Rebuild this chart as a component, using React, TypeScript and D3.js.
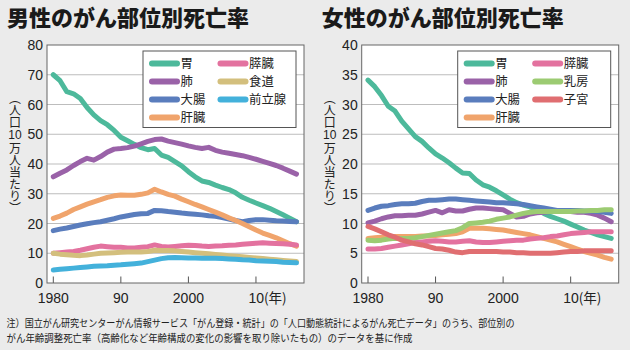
import React from 'react';
import * as d3 from 'd3';

// years on the x axis
const years = [
  1980, 1981, 1982, 1983, 1984, 1985, 1986, 1987, 1988, 1989,
  1990, 1991, 1992, 1993, 1994, 1995, 1996, 1997, 1998, 1999,
  2000, 2001, 2002, 2003, 2004, 2005, 2006, 2007, 2008, 2009,
  2010, 2011, 2012, 2013, 2014, 2015, 2016
];

// male, deaths per 100k
const maleStomach = [70, 68, 64.3, 63.6, 62, 59, 56.5, 54.6, 53.2, 51.3, 49, 47.8, 46.6, 45.5, 44.8, 45.2, 43, 42.2, 40.8, 39.4, 37.4, 35.7, 34.3, 33.8, 32.9, 32.1, 31.4, 30.3, 28.8, 27.8, 26.9, 26, 25.1, 24, 22.9, 21.8, 20.6];
const maleLung = [35.7, 36.9, 38, 39.5, 40.8, 41.9, 41.3, 42.5, 44, 45, 45.2, 45.5, 46, 46.8, 47.6, 48.2, 48.4, 47.7, 47.2, 46.7, 46.1, 45.6, 45.2, 45.6, 44.6, 44, 43.6, 43.2, 42.8, 42.2, 41.6, 40.9, 40.2, 39.5, 38.6, 37.6, 36.6];
const maleColon = [17.6, 18.1, 18.5, 19, 19.5, 19.9, 20.3, 20.6, 21.1, 21.6, 22.2, 22.6, 23, 23.3, 23.4, 24.4, 24.3, 24, 23.8, 23.5, 23.3, 23.1, 22.9, 22.6, 22.4, 22, 21.5, 21, 20.6, 21, 21.3, 21.3, 21.1, 20.9, 20.8, 20.7, 20.6];
const maleLiver = [21.7, 22.5, 23.5, 24.7, 25.6, 26.5, 27.3, 28, 28.8, 29.3, 29.6, 29.5, 29.5, 29.8, 30.3, 31.5, 30.6, 29.8, 29.2, 28.2, 27.3, 26.4, 25.6, 24.7, 23.8, 22.9, 21.9, 21, 20, 18.9, 17.8, 16.8, 16, 15.2, 14.2, 13.2, 12.4];
const malePancreas = [10, 10.2, 10.4, 10.6, 11, 11.5, 12, 12.4, 12.2, 12, 12, 11.8, 11.8, 12, 12.2, 12.8, 12.3, 12.1, 12.3, 12.5, 12.7, 12.6, 12.4, 12.3, 12.4, 12.5, 12.7, 12.8, 13, 13.2, 13.4, 13.5, 13.4, 13.3, 13.2, 13, 12.8];
const maleEsophagus = [10, 9.7, 9.5, 9.3, 9.2, 9.4, 9.7, 10, 10.1, 10.2, 10.3, 10.4, 10.4, 10.4, 10.6, 11, 10.9, 10.9, 10.8, 10.6, 10.4, 10.2, 10, 9.8, 9.6, 9.4, 9.2, 9, 8.8, 8.6, 8.4, 8.2, 8, 7.8, 7.6, 7.4, 7.2];
const maleProstate = [4.4, 4.6, 4.8, 5, 5.2, 5.4, 5.6, 5.7, 5.8, 6, 6.1, 6.3, 6.5, 6.7, 7.2, 7.7, 8.2, 8.5, 8.6, 8.5, 8.4, 8.4, 8.3, 8.3, 8.3, 8.2, 8.1, 8, 7.8, 7.7, 7.5, 7.4, 7.3, 7.2, 7, 6.9, 6.8];

// female, deaths per 100k
const femaleStomach = [34.1, 33, 31.5, 29.7, 28.9, 27.2, 25.9, 24.6, 23.8, 22.7, 21.7, 21, 20.2, 19.3, 18.5, 18.4, 17.3, 16.5, 16.1, 15.5, 14.8, 14.1, 13.5, 13.1, 12.8, 12.3, 11.7, 11.2, 10.8, 10.4, 9.9, 9.4, 8.9, 8.5, 8.1, 7.8, 7.5];
const femaleLung = [10.1, 10.4, 10.8, 11.1, 11.3, 11.3, 11.4, 11.4, 11.6, 11.9, 12.2, 11.8, 12.3, 12.1, 12.1, 12.4, 12.6, 12.6, 12.5, 12.4, 12.3, 11.7, 11.1, 11.2, 11.6, 11.8, 11.9, 12, 12, 12, 12, 11.9, 11.9, 11.7, 11.4, 10.9, 10.3];
const femaleColon = [12.2, 12.6, 12.9, 13, 13.2, 13.3, 13.3, 13.4, 13.7, 13.9, 13.9, 14, 14.1, 14.1, 14, 13.9, 13.8, 13.7, 13.6, 13.5, 13.5, 13.4, 13.3, 13.2, 13, 12.8, 12.6, 12.4, 12.2, 12.2, 12.2, 12.2, 12.1, 12.1, 12, 11.9, 11.7];
const femaleLiver = [7.5, 7.6, 7.7, 7.8, 7.8, 7.8, 7.8, 7.8, 7.9, 7.9, 8, 8.1, 8.2, 8.3, 8.6, 9.2, 9.2, 9.2, 9.1, 9, 8.9, 8.7, 8.5, 8.3, 8.1, 7.8, 7.5, 7.2, 6.9, 6.5, 6.1, 5.7, 5.3, 5, 4.7, 4.3, 4];
const femalePancreas = [5.7, 5.7, 5.8, 6, 6.2, 6.4, 6.6, 6.8, 6.9, 7, 7.1, 7, 6.9, 6.9, 7, 7.1, 6.9, 6.8, 6.8, 6.9, 7, 7.1, 7.2, 7.2, 7.4, 7.5, 7.6, 7.8, 7.9, 8.1, 8.3, 8.4, 8.5, 8.6, 8.6, 8.6, 8.6];
const femaleBreast = [7.2, 7.1, 7.2, 7.4, 7.5, 7.5, 7.5, 7.6, 7.8, 8, 8.2, 8.4, 8.6, 8.8, 9.3, 10, 10.1, 10.2, 10.4, 10.7, 10.9, 11.1, 11.4, 11.7, 11.9, 12, 12, 12, 12, 12, 12, 12.1, 12.1, 12.2, 12.2, 12.3, 12.3];
const femaleUterus = [9.5, 9.1, 8.6, 8.1, 7.7, 7.2, 6.9, 6.6, 6.4, 6.1, 5.8, 5.7, 5.5, 5.2, 5.1, 5.3, 5.3, 5.3, 5.3, 5.3, 5.2, 5.2, 5.1, 5.1, 5, 5, 5, 5, 5.1, 5.2, 5.3, 5.3, 5.4, 5.4, 5.4, 5.4, 5.4];

const maleYTicks = [0, 10, 20, 30, 40, 50, 60, 70, 80];
const femaleYTicks = [0, 5, 10, 15, 20, 25, 30, 35, 40];
const xTickYears = [1980, 1990, 2000, 2010];
const xTickLabels = ['1980', '90', '2000', '10'];
// vertical axis caption: upper part, the upright "10", lower part
const yLabelTop = '（人口';
const yLabelNum = '10';
const yLabelBottom = '万人当たり）';

const colors = {
  stomach: '#4db99b',
  lung: '#9a62a8',
  colon: '#5a7dbd',
  liver: '#f0a46c',
  pancreas: '#e3729f',
  esophagus: '#d3bf7d',
  prostate: '#43b1db',
  breast: '#9ccb72',
  uterus: '#e06e71'
};

const maleSeries = [
  { name: '胃', values: maleStomach, color: colors.stomach },
  { name: '肺', values: maleLung, color: colors.lung },
  { name: '大腸', values: maleColon, color: colors.colon },
  { name: '肝臓', values: maleLiver, color: colors.liver },
  { name: '膵臓', values: malePancreas, color: colors.pancreas },
  { name: '食道', values: maleEsophagus, color: colors.esophagus },
  { name: '前立腺', values: maleProstate, color: colors.prostate }
];

const femaleSeries = [
  { name: '胃', values: femaleStomach, color: colors.stomach },
  { name: '肺', values: femaleLung, color: colors.lung },
  { name: '大腸', values: femaleColon, color: colors.colon },
  { name: '肝臓', values: femaleLiver, color: colors.liver },
  { name: '膵臓', values: femalePancreas, color: colors.pancreas },
  { name: '乳房', values: femaleBreast, color: colors.breast },
  { name: '子宮', values: femaleUterus, color: colors.uterus }
];

const JP = '"Noto Sans CJK JP", "Noto Sans", sans-serif';
const NUM = '"Liberation Sans", Arial, "Noto Sans CJK JP", sans-serif';

type Series = { name: string; values: number[]; color: string };

function Panel({ left, title, series, yTicks }: { left: number; title: string; series: Series[]; yTicks: number[] }) {
  const x0 = left + 47;
  const x1 = left + 304;
  const top = 45;
  const bottom = 283;

  const x = d3.scaleLinear().domain([1980, 2016]).range([x0 + 6.3, x1 - 7.5]);
  const y = d3.scaleLinear().domain([0, d3.max(yTicks) as number]).range([bottom, top]);
  const line = d3
    .line<number>()
    .x((d, i) => x(years[i]))
    .y(d => y(d));

  const lx = x0 + 96;
  const ly = 51;
  const cx = left + 15;

  return (
    <g>
      <text x={left + 7} y={25.5} fontFamily={JP} fontWeight={900} fontSize={22} fill="#1a1a1a">
        {title}
      </text>

      <rect x={x0} y={top} width={x1 - x0} height={bottom - top} fill="#fff" />
      {yTicks.slice(1, -1).map(t => (
        <line key={t} x1={x0} x2={x1} y1={y(t)} y2={y(t)} stroke="#bdbdbd" strokeWidth={1} />
      ))}
      {yTicks.map(t => (
        <text key={t} x={x0 - 4} y={y(t)} dy="0.36em" textAnchor="end" fontFamily={NUM} fontSize={14} fill="#222">
          {t}
        </text>
      ))}
      {xTickYears.map((yr, i) => (
        <g key={yr}>
          <line x1={x(yr)} x2={x(yr)} y1={bottom} y2={bottom - 6.5} stroke="#555" strokeWidth={1} />
          {yr === 2010 ? (
            <text x={x(yr) - 7.5} y={303} fontFamily={NUM} fontSize={14} fill="#222">
              {xTickLabels[i]}
              <tspan fontFamily={JP} fontSize={13.5}>(年)</tspan>
            </text>
          ) : (
            <text x={x(yr)} y={303} textAnchor="middle" fontFamily={NUM} fontSize={14} fill="#222">
              {xTickLabels[i]}
            </text>
          )}
        </g>
      ))}

      {/* vertical caption */}
      <text x={cx} y={92} fontFamily={JP} fontSize={12} fill="#222" style={{ writingMode: 'vertical-rl' }}>
        {yLabelTop}
      </text>
      <text x={cx} y={138.5} textAnchor="middle" fontFamily={NUM} fontSize={12} fill="#222">
        {yLabelNum}
      </text>
      <text x={cx} y={142} fontFamily={JP} fontSize={12} fill="#222" style={{ writingMode: 'vertical-rl' }}>
        {yLabelBottom}
      </text>

      {series.map(s => (
        <path
          key={s.name}
          d={line(s.values) || ''}
          fill="none"
          stroke={s.color}
          strokeWidth={5}
          strokeLinecap="round"
          strokeLinejoin="round"
        />
      ))}

      <rect x={x0} y={top} width={x1 - x0} height={bottom - top} fill="none" stroke="#666" strokeWidth={1} />

      <rect x={lx} y={ly} width={153} height={76.5} fill="#fff" stroke="#555" strokeWidth={1} />
      {series.map((s, i) => {
        const col = i < 4 ? 0 : 1;
        const row = i < 4 ? i : i - 4;
        const sx = lx + 9 + col * 68.5;
        const sy = ly + 12.5 + row * 18;
        return (
          <g key={s.name}>
            <line x1={sx} x2={sx + 25} y1={sy} y2={sy} stroke={s.color} strokeWidth={6} strokeLinecap="round" />
            <text x={sx + 28.5} y={sy} dy="0.36em" fontFamily={JP} fontSize={12.4} fill="#222">
              {s.name}
            </text>
          </g>
        );
      })}
    </g>
  );
}

export default function App() {
  return (
    <svg
      width={630}
      height={350}
      style={{ position: 'absolute', left: 0, top: 0, display: 'block', background: '#ebebeb' }}
    >
      <rect x={0} y={0} width={630} height={350} fill="#ebebeb" />
      <Panel left={0} title="男性のがん部位別死亡率" series={maleSeries} yTicks={maleYTicks} />
      <Panel left={314.7} title="女性のがん部位別死亡率" series={femaleSeries} yTicks={femaleYTicks} />
      <text x={6.5} y={326.5} fontFamily={JP} fontSize={10.3} fill="#222" textLength={508} lengthAdjust="spacingAndGlyphs">
        注）国立がん研究センターがん情報サービス「がん登録・統計」の「人口動態統計によるがん死亡データ」のうち、部位別の
      </text>
      <text x={6.5} y={341.5} fontFamily={JP} fontSize={10.3} fill="#222" textLength={406} lengthAdjust="spacingAndGlyphs">
        がん年齢調整死亡率（高齢化など年齢構成の変化の影響を取り除いたもの）のデータを基に作成
      </text>
    </svg>
  );
}
